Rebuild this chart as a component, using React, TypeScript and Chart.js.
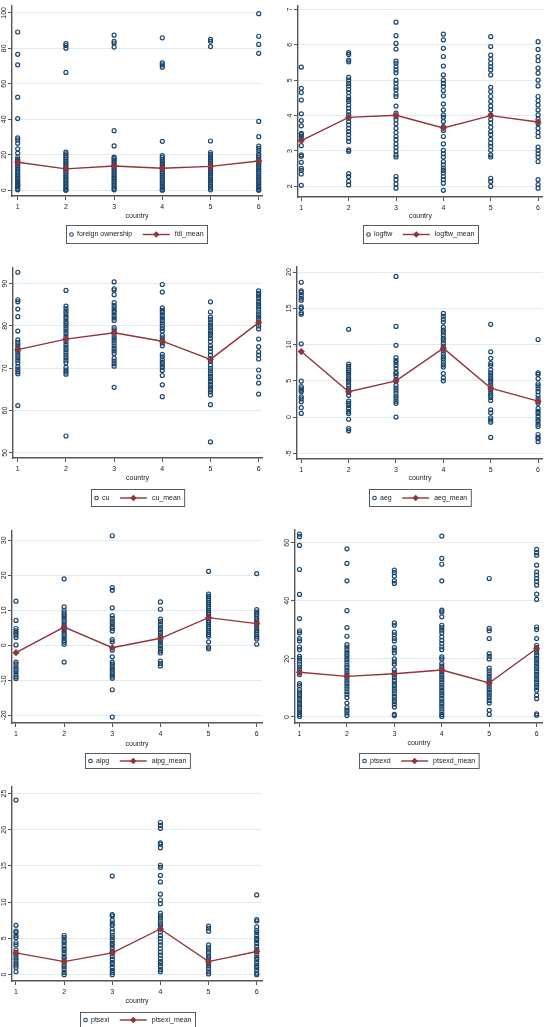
import React, { useEffect, useRef } from "react";
import { Chart, registerables } from "chart.js";
Chart.register(...registerables);

// ---------------- data ----------------
const countries = [1, 2, 3, 4, 5, 6];

const fdiValues = [
  [89.2, 76.6, 70.7, 52.5, 40.4, 29.5, 28.4, 26.5, 23.4, 21, 18.5, 17.5, 16.8, 16, 15, 14, 13, 12, 11, 10, 9, 8, 7, 6, 5, 4.5, 4, 3.5, 3, 2.5, 2, 1, 0.3],
  [82.6, 81.6, 80.1, 66.4, 21.5, 20.5, 19.5, 18.5, 17.5, 16.5, 15.5, 14.5, 13.5, 12.5, 11.5, 10.5, 9.5, 8.5, 7.5, 6.5, 5.5, 4.5, 3.5, 2.5, 1.5, 0.5, 0],
  [87.4, 84, 83, 80.7, 33.6, 25, 18.7, 18, 17, 16, 15, 14, 13, 12, 11, 10, 9, 8, 7, 6, 5, 4, 3, 2, 1, 0.3],
  [85.9, 71.8, 70.7, 69.4, 27.6, 19.5, 18.5, 17.5, 16.5, 15.5, 14.5, 13.5, 12.5, 11.5, 10.5, 9.5, 8.5, 7.5, 6.5, 5.5, 4.5, 3.5, 2.5, 1.5, 0.5, 0],
  [85, 84, 81, 27.8, 21.3, 20.3, 19.3, 18.3, 17.3, 16.3, 15.3, 14.3, 13.3, 12.3, 11.3, 10.3, 9.3, 8.3, 7.3, 6.3, 5.3, 4.3, 3.3, 2.3, 1.3, 0.3],
  [99.5, 86.8, 82.2, 77.2, 38.8, 30.2, 24.9, 23.7, 22.4, 20.6, 19.5, 18.5, 17.5, 16.5, 15.5, 14.5, 13.5, 12.5, 11.5, 10.5, 9.5, 8.5, 7.5, 6.5, 5.5, 4.5, 3.5, 2.5, 1.5, 0.5, 0],
];
const fdiMean = [15.8, 12.1, 13.7, 12.4, 13.5, 16.5];
const fdiTicks = [0, 20, 40, 60, 80, 100];

const logftwValues = [
  [5.37, 4.77, 4.65, 4.44, 4.05, 3.86, 3.71, 3.5, 3.46, 3.41, 3.32, 3.15, 2.89, 2.85, 2.68, 2.51, 2.45, 2.35, 2.03],
  [5.78, 5.73, 5.57, 5.52, 5.08, 5.0, 4.91, 4.84, 4.74, 4.65, 4.54, 4.46, 4.4, 4.3, 4.21, 4.11, 4.02, 3.93, 3.83, 3.74, 3.64, 3.55, 3.46, 3.36, 3.27, 3.03, 2.99, 2.36, 2.28, 2.14, 2.04],
  [6.64, 6.26, 6.04, 5.88, 5.54, 5.48, 5.38, 5.29, 5.21, 5.0, 4.91, 4.8, 4.73, 4.61, 4.54, 4.27, 4.07, 3.97, 3.88, 3.77, 3.64, 3.52, 3.41, 3.32, 3.2, 3.1, 2.99, 2.89, 2.83, 2.28, 2.19, 2.07, 1.95],
  [6.3, 6.14, 5.9, 5.67, 5.4, 5.15, 5.0, 4.91, 4.82, 4.71, 4.56, 4.33, 4.16, 4.02, 3.95, 3.83, 3.69, 3.58, 3.41, 3.2, 3.02, 2.92, 2.83, 2.7, 2.61, 2.52, 2.45, 2.38, 2.28, 2.19, 2.09, 1.89],
  [6.23, 5.95, 5.71, 5.59, 5.48, 5.38, 5.29, 5.15, 4.8, 4.68, 4.54, 4.4, 4.27, 4.16, 4.02, 3.9, 3.79, 3.67, 3.55, 3.46, 3.33, 3.22, 3.13, 3.02, 2.89, 2.83, 2.23, 2.14, 2.0],
  [6.09, 5.87, 5.67, 5.55, 5.34, 5.2, 5.0, 4.84, 4.54, 4.42, 4.3, 4.16, 4.02, 3.9, 3.77, 3.64, 3.52, 3.41, 3.11, 3.02, 2.92, 2.83, 2.7, 2.19, 2.05, 1.95],
];
const logftwMean = [3.29, 3.95, 4.01, 3.65, 4.0, 3.82];
const logftwTicks = [2, 3, 4, 5, 6, 7];

const cuValues = [
  [92.7, 86.2, 85.7, 84, 82.2, 78.8, 76.7, 76.1, 75.5, 74.9, 74.3, 73.8, 73.1, 72.5, 71.9, 71.3, 70.4, 69.8, 69.2, 68.7, 61.2],
  [88.4, 84.7, 84.1, 83.5, 82.9, 82.3, 81.8, 81.1, 80.6, 80.0, 79.4, 78.8, 78.2, 77.5, 76.9, 76.3, 75.6, 75.0, 74.4, 73.8, 73.1, 72.5, 71.9, 71.3, 70.2, 69.6, 69.1, 68.6, 54],
  [90.4, 88.8, 88.5, 87.4, 85.5, 84.9, 84.3, 83.7, 83.2, 82.5, 81.9, 81.3, 79.6, 79.1, 78.5, 77.8, 77.2, 76.6, 76.0, 75.3, 74.7, 74.1, 73.5, 72.4, 71.7, 71.1, 70.5, 65.5],
  [89.8, 88.0, 84.3, 83.7, 83.2, 82.5, 81.9, 81.3, 80.7, 80.0, 79.4, 78.8, 77.8, 77.2, 76.6, 76.0, 75.3, 73.3, 72.7, 72.0, 71.4, 70.8, 70.2, 69.5, 68.3, 66.1, 63.3],
  [85.7, 83.3, 82.1, 81.5, 80.8, 80.2, 79.6, 78.9, 78.3, 77.7, 77.1, 76.3, 75.3, 74.7, 73.9, 73.1, 72.2, 71.6, 70.8, 70.0, 69.4, 68.7, 68.1, 67.5, 66.9, 66.2, 65.6, 65.0, 64.4, 63.7, 61.4, 52.6],
  [88.3, 87.7, 87.1, 86.5, 85.8, 85.2, 84.6, 84.0, 83.3, 82.7, 82.1, 81.5, 80.8, 80.0, 79.3, 76.9, 75.1, 73.9, 73.1, 72.2, 69.6, 68.0, 66.5, 63.9],
];
const cuMean = [74.4, 76.9, 78.4, 76.4, 72.1, 80.8];
const cuTicks = [50, 60, 70, 80, 90];

const aegValues = [
  [18.6, 17.4, 17.2, 16.8, 16.4, 16.1, 15.2, 15.0, 14.4, 14.2, 10.1, 4.95, 4.2, 3.9, 3.7, 3.5, 2.8, 2.5, 2.1, 1.3, 0.5],
  [12.1, 7.3, 7.0, 6.7, 6.4, 6.1, 5.8, 5.4, 5.1, 4.8, 4.4, 4.0, 3.7, 3.4, 3.0, 2.2, 1.9, 1.6, 1.2, 0.8, 0.5, -0.3, -1.6, -1.9],
  [19.4, 12.5, 9.9, 8.2, 7.8, 7.5, 7.1, 6.7, 6.2, 6.0, 5.7, 5.2, 4.9, 4.4, 4.0, 3.7, 3.3, 2.9, 2.6, 2.2, 1.9, 0.0],
  [14.3, 13.9, 13.5, 13.1, 12.4, 12.0, 11.7, 11.3, 10.9, 10.6, 10.2, 9.8, 9.4, 9.1, 8.7, 8.3, 8.0, 7.6, 7.2, 6.9, 6.0, 5.4, 5.0],
  [12.8, 9.0, 8.1, 7.4, 7.1, 6.5, 6.1, 5.8, 5.4, 5.1, 4.8, 4.4, 4.0, 3.7, 3.3, 3.0, 2.7, 2.3, 1.0, 0.6, -0.1, -0.4, -0.7, -2.8],
  [10.7, 6.1, 5.9, 5.3, 4.6, 4.3, 3.9, 3.5, 3.0, 2.6, 2.2, 1.9, 1.2, 0.8, 0.5, 0.1, -0.3, -0.6, -1.0, -1.3, -2.4, -2.8, -3.0, -3.4],
];
const aegMean = [9.04, 3.5, 5.0, 9.5, 4.0, 2.2];
const aegTicks = [-5, 0, 5, 10, 15, 20];

const alpgValues = [
  [12.6, 7.1, 4.8, 4.1, 3.5, 2.9, 2.2, 0.1, -4.8, -5.4, -6.2, -6.9, -7.5, -8.3, -9.0, -9.5],
  [19.0, 11.0, 10.0, 9.3, 8.7, 8.1, 7.4, 6.8, 6.1, 5.4, 4.8, 4.1, 3.4, 2.8, 2.1, 1.4, 0.9, 0.3, -4.8],
  [31.3, 16.5, 15.7, 10.7, 8.5, 7.7, 6.9, 6.2, 5.4, 4.8, 4.1, 1.6, 1.0, -1.4, -3.3, -4.8, -5.4, -6.1, -6.8, -7.4, -8.1, -8.8, -9.4, -12.7, -20.5],
  [12.4, 10.3, 7.5, 6.8, 6.0, 5.2, 4.5, 3.7, 3.0, 2.2, 1.4, 0.7, -0.1, -0.9, -1.6, -2.2, -4.5, -5.2, -5.9],
  [21.1, 14.6, 14.0, 13.4, 12.9, 12.3, 11.7, 11.1, 10.6, 10.0, 9.4, 8.9, 8.3, 7.7, 7.1, 6.6, 6.0, 5.4, 4.9, 4.3, 3.7, 3.1, 2.6, 1.0, -0.5, -1.0],
  [20.5, 10.2, 9.5, 8.9, 8.3, 7.6, 7.0, 6.4, 5.7, 5.0, 4.3, 3.7, 3.1, 2.4, 1.8, 0.3],
];
const alpgMean = [-2.1, 5.2, -0.7, 2.0, 7.9, 6.2];
const alpgTicks = [-20, -10, 0, 10, 20, 30];

const ptsexdValues = [
  [63, 62.1, 59.1, 50.8, 42.2, 33.9, 29.7, 29.0, 27.0, 26.2, 24.1, 23.2, 20.9, 20.2, 19.3, 18.2, 17.2, 16.3, 15.4, 14.6, 11.5, 10.8, 9.4, 8.6, 7.7, 6.9, 6.0, 5.1, 4.3, 3.4, 2.5, 1.7, 0.9, 0.2],
  [57.9, 52.9, 46.9, 36.6, 30.8, 27.8, 24.9, 24.1, 23.2, 22.3, 21.5, 20.7, 19.8, 18.9, 17.9, 17.0, 16.1, 15.2, 14.3, 13.3, 12.4, 11.5, 10.6, 9.7, 8.7, 7.8, 6.7, 4.8, 3.2, 2.3, 1.4, 0.5],
  [50.6, 49.7, 48.5, 46.9, 46.0, 32.4, 31.6, 29.2, 28.3, 27.1, 26.2, 23.9, 23.0, 22.1, 20.0, 19.0, 18.2, 16.3, 15.4, 14.5, 13.6, 12.6, 11.7, 10.8, 9.9, 9.0, 8.0, 7.1, 6.2, 5.3, 4.4, 3.4, 0.9, 0.5],
  [62.3, 54.6, 52.6, 46.9, 36.8, 36.2, 34.5, 31.6, 30.8, 29.9, 29.0, 27.6, 26.4, 25.3, 24.1, 23.2, 20.7, 20.0, 18.4, 17.5, 16.6, 15.6, 14.7, 13.8, 12.9, 12.0, 11.0, 10.1, 9.2, 8.3, 7.4, 6.4, 5.5, 4.6, 3.7, 2.8, 1.8, 0.9, 0.2],
  [47.7, 30.5, 29.7, 27.0, 21.8, 20.9, 20.0, 16.8, 15.9, 14.9, 14.0, 13.1, 12.2, 11.3, 10.3, 9.4, 8.5, 7.6, 6.7, 5.7, 4.8, 2.3, 0.9],
  [57.7, 56.6, 55.7, 52.3, 50.0, 48.9, 47.7, 46.6, 45.4, 42.3, 40.5, 31.0, 30.1, 27.0, 24.7, 23.9, 23.0, 22.1, 21.1, 20.2, 19.3, 18.4, 17.5, 16.6, 15.6, 14.7, 13.8, 12.9, 12.0, 11.0, 10.1, 9.2, 7.5, 6.3, 1.1, 0.6],
];
const ptsexdMean = [15.4, 14.0, 14.9, 16.2, 11.7, 23.6];
const ptsexdTicks = [0, 20, 40, 60];

const ptsexiValues = [
  [24.1, 6.8, 6.0, 5.8, 5.4, 5.1, 4.4, 4.1, 3.4, 3.0, 2.7, 2.3, 2.0, 1.6, 1.3, 1.0, 0.4],
  [5.4, 5.1, 4.7, 4.4, 4.0, 3.6, 3.3, 2.9, 2.5, 2.2, 1.8, 1.4, 1.1, 0.7, 0.3, 0],
  [13.6, 8.3, 8.1, 7.5, 7.1, 6.8, 6.3, 5.9, 5.4, 5.1, 4.7, 4.3, 4.0, 3.6, 3.2, 2.9, 2.5, 2.1, 1.7, 1.4, 1.0, 0.6, 0.3, 0],
  [21.0, 20.6, 20.2, 18.2, 18.0, 17.5, 15.1, 14.8, 13.7, 12.8, 11.1, 10.3, 9.8, 8.5, 8.1, 7.8, 7.4, 7.0, 6.7, 5.9, 5.4, 5.0, 4.5, 4.1, 3.6, 3.1, 2.7, 2.2, 1.8, 1.5, 1.1, 0.7, 0.4],
  [6.7, 6.4, 6.0, 4.1, 3.7, 3.4, 3.0, 2.6, 2.3, 1.9, 1.5, 1.2, 0.8, 0.4, 0.1],
  [11.0, 7.6, 7.4, 6.6, 6.1, 5.8, 5.4, 5.0, 4.7, 4.3, 3.9, 3.5, 3.2, 2.8, 2.4, 2.1, 1.7, 1.3, 1.0, 0.6, 0.2, 0],
];
const ptsexiMean = [3.0, 1.8, 3.0, 6.3, 1.8, 3.2];
const ptsexiTicks = [0, 5, 10, 15, 20, 25];

// ---------------- style / layout ----------------
const FONT = '"Liberation Sans", Arial, Helvetica, sans-serif';
const NAVY = "#1a476f";
const MAROON = "#90353b";
const AXIS = "#555555";
const GRID = "#e1eaed";
const TEXT = "#222222";

const panels = [
  { label: "foreign ownership", meanLabel: "fdi_mean", values: fdiValues, mean: fdiMean, yTicks: fdiTicks,
    box: { x: 0, y: 0, w: 274, h: 252 }, area: { l: 12, t: 3, r: 262, b: 196 },
    xMin: 0.882, xMax: 6.068, yMin: -3.2, yMax: 104.3, titleY: 216, legendTop: 225, legendH: 18 },
  { label: "logftw", meanLabel: "logftw_mean", values: logftwValues, mean: logftwMean, yTicks: logftwTicks,
    box: { x: 274, y: 0, w: 274, h: 252 }, area: { l: 298, t: 5, r: 547, b: 197 },
    xMin: 0.93, xMax: 6.1, yMin: 1.7, yMax: 7.12, titleY: 216, legendTop: 225, legendH: 18 },
  { label: "cu", meanLabel: "cu_mean", values: cuValues, mean: cuMean, yTicks: cuTicks,
    box: { x: 0, y: 255, w: 274, h: 255 }, area: { l: 13, t: 268, r: 262, b: 458 },
    xMin: 0.9, xMax: 6.07, yMin: 48.8, yMax: 93.7, titleY: 478, legendTop: 489, legendH: 17 },
  { label: "aeg", meanLabel: "aeg_mean", values: aegValues, mean: aegMean, yTicks: aegTicks,
    box: { x: 274, y: 255, w: 274, h: 255 }, area: { l: 297, t: 267, r: 547, b: 459 },
    xMin: 0.91, xMax: 6.1, yMin: -5.78, yMax: 20.7, titleY: 478, legendTop: 489, legendH: 17 },
  { label: "alpg", meanLabel: "alpg_mean", values: alpgValues, mean: alpgMean, yTicks: alpgTicks,
    box: { x: 0, y: 512, w: 274, h: 260 }, area: { l: 12, t: 531, r: 262, b: 723 },
    xMin: 0.917, xMax: 6.11, yMin: -22.2, yMax: 32.66, titleY: 744, legendTop: 753, legendH: 15 },
  { label: "ptsexd", meanLabel: "ptsexd_mean", values: ptsexdValues, mean: ptsexdMean, yTicks: ptsexdTicks,
    box: { x: 274, y: 512, w: 274, h: 260 }, area: { l: 295, t: 530, r: 547, b: 723 },
    xMin: 0.905, xMax: 6.13, yMin: -2.07, yMax: 64.4, titleY: 743, legendTop: 753, legendH: 15 },
  { label: "ptsexi", meanLabel: "ptsexi_mean", values: ptsexiValues, mean: ptsexiMean, yTicks: ptsexiTicks,
    box: { x: 0, y: 775, w: 274, h: 252 }, area: { l: 12, t: 787, r: 262, b: 981 },
    xMin: 0.917, xMax: 6.11, yMin: -0.88, yMax: 25.9, titleY: 1001, legendTop: 1011.5, legendH: 15 },
];

function drawDiamond(ctx: CanvasRenderingContext2D, x: number, y: number, r: number) {
  ctx.beginPath();
  ctx.moveTo(x, y - r);
  ctx.lineTo(x + r, y);
  ctx.lineTo(x, y + r);
  ctx.lineTo(x - r, y);
  ctx.closePath();
  ctx.fill();
}

function Panel({ p }: { p: any }) {
  const ref = useRef<HTMLCanvasElement | null>(null);
  useEffect(() => {
    const { box, area } = p;
    const scatterData: { x: number; y: number }[] = [];
    p.values.forEach((arr: number[], i: number) =>
      arr.forEach((v) => scatterData.push({ x: countries[i], y: v }))
    );
    const meanData = countries.map((c, i) => ({ x: c, y: p.mean[i] }));

    const overlay = {
      id: "overlay",
      afterDraw(chart: any) {
        const ctx = chart.ctx as CanvasRenderingContext2D;
        const ca = chart.chartArea;
        const ys = chart.scales.y;
        ctx.save();
        ctx.fillStyle = TEXT;
        ctx.font = `7px ${FONT}`;
        ctx.textAlign = "center";
        ctx.textBaseline = "middle";
        p.yTicks.forEach((v: number) => {
          const py = ys.getPixelForValue(v);
          ctx.save();
          ctx.translate(ca.left - 8, py);
          ctx.rotate(-Math.PI / 2);
          ctx.fillText(String(v), 0, 0);
          ctx.restore();
        });
        const cx = (ca.left + ca.right) / 2;
        ctx.fillText("country", cx, p.titleY - box.y);

        const w1 = ctx.measureText(p.label).width;
        const w2 = ctx.measureText(p.meanLabel).width;
        const lw = 10.5 + w1 + 10.5 + 27 + 5 + w2 + 4;
        const lx = Math.round(cx - lw / 2) + 0.5;
        const ly = Math.round(p.legendTop - box.y) + 0.5;
        const lh = p.legendH;
        ctx.strokeStyle = "#4a4a4a";
        ctx.lineWidth = 0.9;
        ctx.strokeRect(lx, ly, lw, lh);
        const my = ly + lh / 2;
        ctx.beginPath();
        ctx.arc(lx + 5, my, 1.8, 0, Math.PI * 2);
        ctx.strokeStyle = NAVY;
        ctx.lineWidth = 1.1;
        ctx.stroke();
        ctx.textAlign = "left";
        ctx.fillStyle = TEXT;
        ctx.fillText(p.label, lx + 10.5, my);
        const sx = lx + 10.5 + w1 + 10.5;
        ctx.beginPath();
        ctx.moveTo(sx, my);
        ctx.lineTo(sx + 27, my);
        ctx.strokeStyle = MAROON;
        ctx.lineWidth = 1.4;
        ctx.stroke();
        ctx.fillStyle = MAROON;
        drawDiamond(ctx, sx + 13.5, my, 3.3);
        ctx.fillStyle = TEXT;
        ctx.fillText(p.meanLabel, sx + 32, my);
        ctx.restore();
      },
    };

    const chart = new Chart(ref.current as HTMLCanvasElement, {
      type: "scatter",
      data: {
        datasets: [
          {
            label: p.meanLabel,
            data: meanData,
            showLine: true,
            borderColor: MAROON,
            backgroundColor: MAROON,
            borderWidth: 1.4,
            pointStyle: "rectRot",
            pointRadius: 3.6,
            pointBorderWidth: 0,
            pointBackgroundColor: MAROON,
            order: 0,
            clip: false,
          } as any,
          {
            label: p.label,
            data: scatterData,
            pointStyle: "circle",
            pointRadius: 2,
            pointBorderColor: NAVY,
            pointBackgroundColor: "rgba(0,0,0,0)",
            pointBorderWidth: 1.2,
            borderColor: NAVY,
            backgroundColor: "rgba(0,0,0,0)",
            order: 1,
            clip: false,
          } as any,
        ],
      },
      options: {
        animation: false,
        responsive: false,
        maintainAspectRatio: false,
        events: [],
        layout: {
          padding: { left: 0, top: area.t - box.y, right: box.x + box.w - area.r, bottom: 0 },
        },
        plugins: { legend: { display: false }, tooltip: { enabled: false }, title: { display: false } },
        scales: {
          x: {
            type: "linear",
            min: p.xMin,
            max: p.xMax,
            afterBuildTicks: (s: any) => {
              s.ticks = countries.map((v) => ({ value: v }));
            },
            afterFit: (s: any) => {
              s.height = box.y + box.h - area.b;
            },
            grid: { drawOnChartArea: false, drawTicks: true, tickLength: 4, tickColor: AXIS, tickWidth: 1 },
            border: { color: AXIS, width: 1.4 },
            ticks: { font: { family: FONT, size: 7 }, color: TEXT, padding: 3, maxRotation: 0, autoSkip: false },
          },
          y: {
            type: "linear",
            min: p.yMin,
            max: p.yMax,
            afterBuildTicks: (s: any) => {
              s.ticks = p.yTicks.map((v: number) => ({ value: v }));
            },
            afterFit: (s: any) => {
              s.width = area.l - box.x;
            },
            grid: { color: GRID, lineWidth: 1, drawTicks: true, tickLength: 4, tickColor: AXIS, tickWidth: 1 },
            border: { color: AXIS, width: 1.4 },
            ticks: { display: false },
          },
        },
      } as any,
      plugins: [overlay],
    });
    return () => chart.destroy();
  }, []);
  return (
    <canvas
      ref={ref}
      width={p.box.w}
      height={p.box.h}
      style={{ position: "absolute", left: p.box.x, top: p.box.y, width: p.box.w, height: p.box.h }}
    />
  );
}

export default function App() {
  return (
    <div style={{ position: "absolute", left: 0, top: 0, width: 548, height: 1027, background: "#ffffff", overflow: "hidden" }}>
      {panels.map((p, i) => (
        <Panel key={i} p={p} />
      ))}
    </div>
  );
}
